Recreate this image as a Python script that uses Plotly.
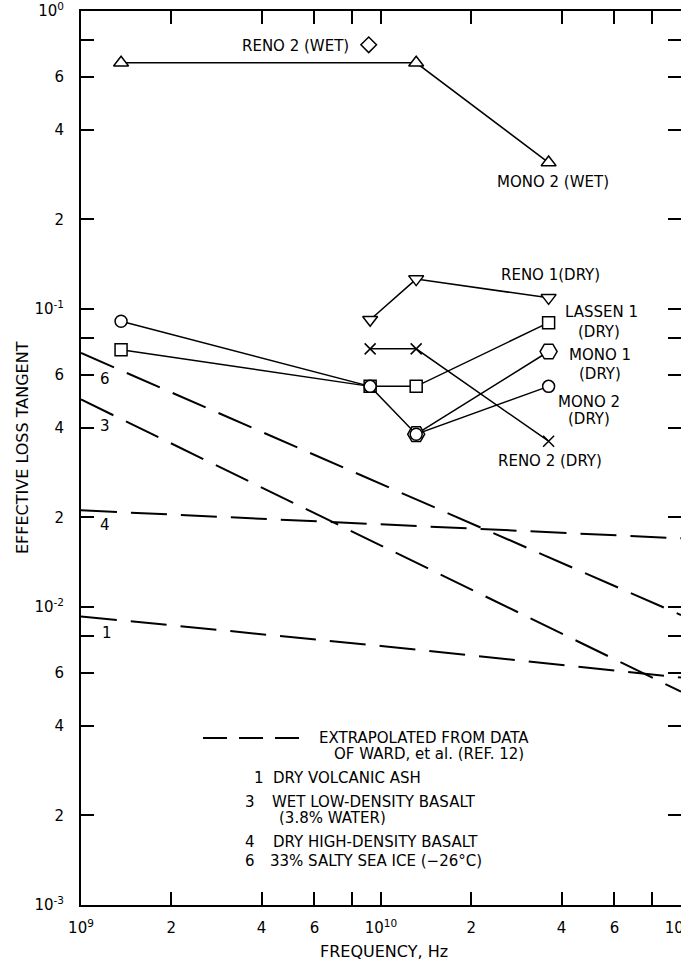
import numpy as np
import plotly.graph_objects as go

# ---------------- data ----------------
# measured points: frequency (Hz) and effective loss tangent
reno2_wet_f = [9.1e9]
reno2_wet_v = [0.77]
mono2_wet_f = [1.36e9, 1.31e10, 3.62e10]
mono2_wet_v = [0.67, 0.67, 0.31]
reno1_dry_f = [9.2e9, 1.31e10, 3.62e10]
reno1_dry_v = [0.092, 0.126, 0.109]
lassen1_dry_f = [1.36e9, 9.2e9, 1.31e10, 3.62e10]
lassen1_dry_v = [0.073, 0.055, 0.055, 0.090]
reno2_dry_f = [9.2e9, 1.31e10, 3.62e10]
reno2_dry_v = [0.0735, 0.0735, 0.036]
mono1_dry_f = [1.31e10, 3.62e10]
mono1_dry_v = [0.038, 0.072]
mono2_dry_f = [1.36e9, 9.2e9, 1.31e10, 3.62e10]
mono2_dry_v = [0.091, 0.055, 0.038, 0.055]

# curves extrapolated from data of Ward et al. (Ref. 12)
ward_f = [1e9, 1e10, 1e11]
ward1_v = [0.0093, 0.0074, 0.0058]   # 1 dry volcanic ash
ward3_v = [0.0497, 0.0161, 0.0052]   # 3 wet low-density basalt
ward4_v = [0.0211, 0.0189, 0.0170]   # 4 dry high-density basalt
ward6_v = [0.0712, 0.0259, 0.0094]   # 6 33% salty sea ice

# axes
x_tickvals = [1e9, 2e9, 4e9, 6e9, 8e9, 1e10, 2e10, 4e10, 6e10, 8e10, 1e11]
x_ticktext = ["10<sup>9</sup>", "2", "4", "6", "", "10<sup>10</sup>", "2", "4", "6", "", "10<sup>11</sup>"]
y_tickvals = [1e-3, 2e-3, 4e-3, 6e-3, 8e-3, 1e-2, 2e-2, 4e-2, 6e-2, 8e-2,
              1e-1, 0.2, 0.4, 0.6, 0.8, 1.0]
y_ticktext = ["10<sup>-3</sup>", "2", "4", "6", "", "10<sup>-2</sup>", "2", "4", "6", "",
              "10<sup>-1</sup>", "2", "4", "6", "", "10<sup>0</sup>"]
grid_x = [1e10]
grid_y = [1e-2, 1e-1]

FONT = "DejaVu Sans"
BLACK = "black"

fig = go.Figure()

# dashed extrapolated curves
for v in [ward1_v, ward3_v, ward4_v, ward6_v]:
    fig.add_trace(go.Scatter(x=ward_f, y=v, mode="lines",
                             line=dict(color=BLACK, width=2, dash="36px,14px"),
                             hoverinfo="skip"))


def series(f, v, symbol, size, fill="white"):
    fig.add_trace(go.Scatter(
        x=f, y=v, mode="lines+markers",
        line=dict(color=BLACK, width=1.5),
        marker=dict(symbol=symbol, size=size, color=fill,
                    line=dict(color=BLACK, width=1.5))))


series(mono2_wet_f, mono2_wet_v, "triangle-up", 13)
series(reno2_wet_f, reno2_wet_v, "diamond", 12)
series(reno1_dry_f, reno1_dry_v, "triangle-down", 13)
series(reno2_dry_f, reno2_dry_v, "x-thin-open", 11, fill=BLACK)
series(mono1_dry_f, mono1_dry_v, "hexagon2", 17)
series(lassen1_dry_f, lassen1_dry_v, "square", 12)
series(mono2_dry_f, mono2_dry_v, "circle", 12)

# plot area in pixels
L, R, T, B = 81, 681, 11, 905


def px(x):
    return (x - L) / (R - L)


def py(y):
    return (B - y) / (B - T)


fig.update_layout(
    template="none",
    width=681, height=963, autosize=False,
    margin=dict(l=L, r=681 - R, t=T, b=963 - B, autoexpand=False),
    paper_bgcolor="white", plot_bgcolor="white",
    showlegend=False,
    font=dict(family=FONT, size=15, color=BLACK),
)
common = dict(type="log", ticks="inside", ticklen=13, tickwidth=1.5, tickcolor=BLACK,
              showline=True, linewidth=2, linecolor=BLACK, mirror="ticks",
              showgrid=False, zeroline=False, ticklabeloverflow="allow", automargin=False,
              tickfont=dict(family=FONT, size=15, color=BLACK))
fig.update_xaxes(range=[9, 11], tickmode="array", tickvals=x_tickvals, ticktext=x_ticktext,
                 ticklabelstandoff=8, **common)
fig.update_yaxes(range=[-3, 0], tickmode="array", tickvals=y_tickvals, ticktext=y_ticktext,
                 ticklabelstandoff=12, **common)

# decade grid lines
for g in grid_x:
    fig.add_shape(type="line", xref="x", yref="paper", x0=np.log10(g), x1=np.log10(g),
                  y0=0, y1=1, line=dict(color=BLACK, width=1.3), layer="below")
for g in grid_y:
    fig.add_shape(type="line", xref="paper", yref="y", x0=0, x1=1, y0=np.log10(g), y1=np.log10(g),
                  line=dict(color=BLACK, width=1.3), layer="below")


def label(text, x, y, xanchor="center", size=15, **kw):
    fig.add_annotation(text=text, x=px(x), y=py(y), xref="paper", yref="paper",
                       xanchor=xanchor, yanchor="middle", showarrow=False,
                       font=dict(family=FONT, size=size, color=BLACK), **kw)


# series labels
label("LASSEN 1", 601, 312, bgcolor="white", borderpad=3)
label("RENO 2 (WET)", 351, 46, xanchor="right")
label("MONO 2 (WET)", 553, 182)
label("RENO 1(DRY)", 550, 275)
label("(DRY)", 599, 332)
label("MONO 1", 600, 355)
label("(DRY)", 600, 374)
label("MONO 2", 589, 402)
label("(DRY)", 589, 419)
label("RENO 2 (DRY)", 550, 461)

# curve numbers
label("6", 105, 379)
label("3", 105, 426)
label("4", 105, 525)
label("1", 107, 633)

# key
H = dict(height=14, borderpad=0)
fig.add_shape(type="line", xref="paper", yref="paper", x0=px(203), x1=px(310),
              y0=py(738), y1=py(738), line=dict(color=BLACK, width=2, dash="24px,12px"))
label("EXTRAPOLATED FROM DATA", 318, 738, xanchor="left", **H)
label("OF WARD, et al. (REF. 12)", 333, 754, xanchor="left", **H)
label("1", 259, 778)
label("DRY VOLCANIC ASH", 271, 778, xanchor="left")
label("3", 250, 802)
label("WET LOW-DENSITY BASALT", 271, 802, xanchor="left", **H)
label("(3.8% WATER)", 278, 818, xanchor="left", **H)
label("4", 250, 842)
label("DRY HIGH-DENSITY BASALT", 271, 842, xanchor="left")
label("6", 250, 861)
label("33% SALTY SEA ICE (\u221226\u00b0C)", 268, 861, xanchor="left")

# axis titles
label("FREQUENCY, Hz", 384, 952, size=16)
label("EFFECTIVE LOSS TANGENT", 22, 448, size=16, textangle=-90)

fig.write_html("out.html", config={"responsive": False})
